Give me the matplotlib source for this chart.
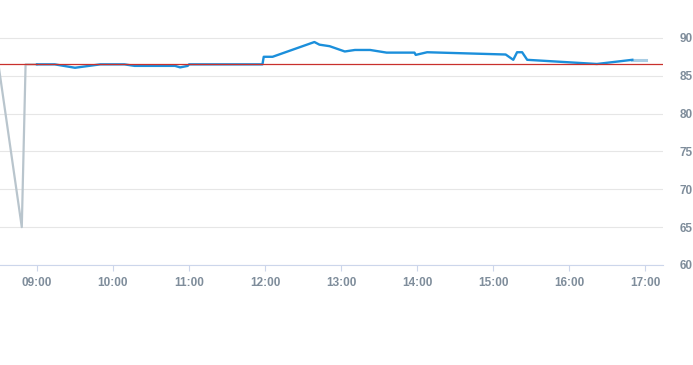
import numpy as np
import matplotlib.pyplot as plt
import matplotlib.dates as mdates
from datetime import datetime

# data
day = "2024-01-01 "
gap_times = ["08:30", "08:48", "08:51", "09:00"]
gap_values = [86.0, 65.0, 86.5, 86.5]

blue_times = ["09:00", "09:14", "09:30", "09:50", "10:09", "10:17", "10:49", "10:53",
              "10:59", "11:00", "11:58", "11:59", "12:06", "12:39", "12:43", "12:51",
              "13:03", "13:11", "13:23", "13:36", "13:58", "13:59", "14:08", "15:10",
              "15:16", "15:19", "15:23", "15:27", "16:22", "16:50"]
blue_values = [86.5, 86.5, 86.05, 86.5, 86.5, 86.3, 86.3, 86.1,
               86.3, 86.5, 86.5, 87.5, 87.5, 89.45, 89.1, 88.9,
               88.2, 88.4, 88.4, 88.05, 88.05, 87.75, 88.1, 87.8,
               87.1, 88.1, 88.1, 87.1, 86.55, 87.1]

tail_times = ["16:50", "17:01"]
tail_values = [87.1, 87.1]

threshold = 86.5


def to_dt(ts):
    return [datetime.strptime(day + s, "%Y-%m-%d %H:%M") for s in ts]


plt.rcParams['font.family'] = ['Liberation Sans', 'DejaVu Sans']

fig = plt.figure(figsize=(6.93, 3.65), dpi=100)
ax = fig.add_axes([0.0, 0.274, 0.9567, 0.726])

ax.plot(to_dt(gap_times), gap_values, color="#b9c5cd", lw=1.6, zorder=3)
ax.plot(to_dt(tail_times), tail_values, color="#a9cde4", lw=2.2, zorder=3)
ax.plot(to_dt(blue_times), blue_values, color="#1b8fdb", lw=1.7, zorder=4)
ax.axhline(threshold, color="#c9302c", lw=0.9, zorder=5)

x0 = datetime.strptime(day + "08:30", "%Y-%m-%d %H:%M")
ax.set_xlim(mdates.date2num(x0) + 0.8 / 1440, mdates.date2num(x0) + (8 * 60 + 44.2) / 1440)
ax.set_ylim(60, 95)

ax.xaxis.set_major_locator(mdates.HourLocator())
ax.xaxis.set_major_formatter(mdates.DateFormatter("%H:%M"))
ax.set_yticks([60, 65, 70, 75, 80, 85, 90])

ax.yaxis.tick_right()
ax.grid(axis="y", color="#e6e6e6", lw=0.8)
ax.set_axisbelow(True)
for s in ["top", "left", "right"]:
    ax.spines[s].set_visible(False)
ax.spines["bottom"].set_color("#ccd6eb")
ax.tick_params(axis="x", colors="#ccd6eb", length=4, width=0.8, pad=5, labelsize=8.5,
               labelcolor="#7f8d9b")
ax.tick_params(axis="y", length=0, pad=12, labelsize=8.5, labelcolor="#7f8d9b")
for lab in ax.get_xticklabels() + ax.get_yticklabels():
    lab.set_fontweight("bold")

fig.savefig("out.png", dpi=100)
